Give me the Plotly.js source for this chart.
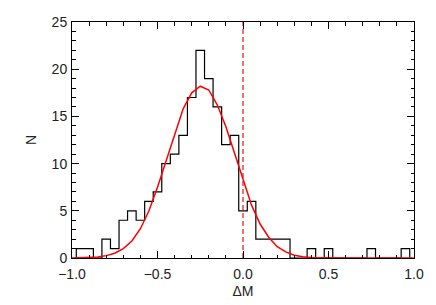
<!DOCTYPE html>
<html>
<head>
<meta charset="utf-8">
<script src="https://cdn.plot.ly/plotly-3.0.1.min.js"></script>
<style>html,body{margin:0;padding:0;background:#fff;}#chart{width:436px;height:305px;}</style>
</head>
<body>
<div id="chart"></div>
<script>
// Histogram bin centres (ΔM) and counts N
var binCenters = [-0.95,-0.90,-0.85,-0.80,-0.75,-0.70,-0.65,-0.60,-0.55,-0.50,
                  -0.45,-0.40,-0.35,-0.30,-0.25,-0.20,-0.15,-0.10,-0.05,0.00,
                  0.05,0.10,0.15,0.20,0.25,0.30,0.35,0.40,0.45,0.50,
                  0.55,0.60,0.65,0.70,0.75,0.80,0.85,0.90,0.95];
var binCounts  = [1,1,0,2,1,4,5,4,6,7,
                  10,11,13,17,22,19,16,12,13,5,
                  6,2,2,2,2,0,0,1,0,1,
                  0,0,0,0,1,0,0,0,1];
var binWidth = 0.05;

// Gaussian fit curve at the bin centres
var fitX = [-1.00,-0.95,-0.90,-0.85,-0.80,-0.75,-0.70,-0.65,-0.60,-0.55,
            -0.50,-0.45,-0.40,-0.35,-0.30,-0.25,-0.20,-0.15,-0.10,-0.05,
            0.00,0.05,0.10,0.15,0.20,0.25,0.30,0.35,0.40,0.45,
            0.50,0.55,0.60,0.65,0.70,0.75,0.80,0.85,0.90,0.95,1.00];
var fitY = [0.01,0.02,0.05,0.10,0.25,0.50,1.00,1.80,3.10,5.00,
            7.50,10.30,13.20,15.80,17.50,18.20,17.80,16.20,13.90,11.10,
            8.20,5.60,3.60,2.20,1.20,0.65,0.30,0.13,0.05,0.02,
            0.01,0,0,0,0,0,0,0,0,0,0];

var refLineX = [0, 0];
var refLineY = [0, 25];

var xTickVals = [-1.0,-0.5,0.0,0.5,1.0];
var xTickText = ['\u22121.0','\u22120.5','0.0','0.5','1.0'];
var yTickVals = [0,5,10,15,20,25];

// build step outline from the bins
var stepX = [binCenters[0] - binWidth/2], stepY = [0];
for (var i = 0; i < binCenters.length; i++) {
  stepX.push(binCenters[i] - binWidth/2, binCenters[i] + binWidth/2);
  stepY.push(binCounts[i], binCounts[i]);
}
stepX.push(binCenters[binCenters.length-1] + binWidth/2);
stepY.push(0);

var traces = [
  {x: stepX, y: stepY, mode: 'lines', line: {color: '#000', width: 1.2, shape: 'linear'}, hoverinfo: 'none'},
  {x: fitX, y: fitY, mode: 'lines', line: {color: '#ff0000', width: 1.5}, hoverinfo: 'none'},
  {x: refLineX, y: refLineY, mode: 'lines', line: {color: '#e8141a', width: 1.2, dash: '5px,3px'}, hoverinfo: 'none'}
];

var font = {family: 'Liberation Sans, Arial, sans-serif', size: 14, color: '#222'};
var layout = {
  width: 436, height: 305,
  margin: {l: 72, r: 22, t: 22, b: 47},
  paper_bgcolor: '#fff', plot_bgcolor: '#fff',
  showlegend: false,
  font: font,
  xaxis: {
    range: [-1, 1], tickvals: xTickVals, ticktext: xTickText,
    ticks: 'inside', ticklen: 7, tickwidth: 1, tickcolor: '#000',
    minor: {dtick: 0.1, ticks: 'inside', ticklen: 3.5, tickwidth: 1, tickcolor: '#000'},
    showline: true, linecolor: '#000', linewidth: 1, mirror: 'ticks',
    showgrid: false, zeroline: false,
    ticklabelstandoff: 3,
    title: {text: '\u0394M', font: font, standoff: 5},
    tickfont: font
  },
  yaxis: {
    range: [0, 25], tickvals: yTickVals,
    ticks: 'inside', ticklen: 7, tickwidth: 1, tickcolor: '#000',
    minor: {dtick: 1, ticks: 'inside', ticklen: 3.5, tickwidth: 1, tickcolor: '#000'},
    showline: true, linecolor: '#000', linewidth: 1, mirror: 'ticks',
    showgrid: false, zeroline: false,
    ticklabelstandoff: 1,
    title: {text: 'N', font: font, standoff: 11},
    tickfont: font
  }
};

Plotly.newPlot('chart', traces, layout, {staticPlot: true, displayModeBar: false});
</script>
</body>
</html>
